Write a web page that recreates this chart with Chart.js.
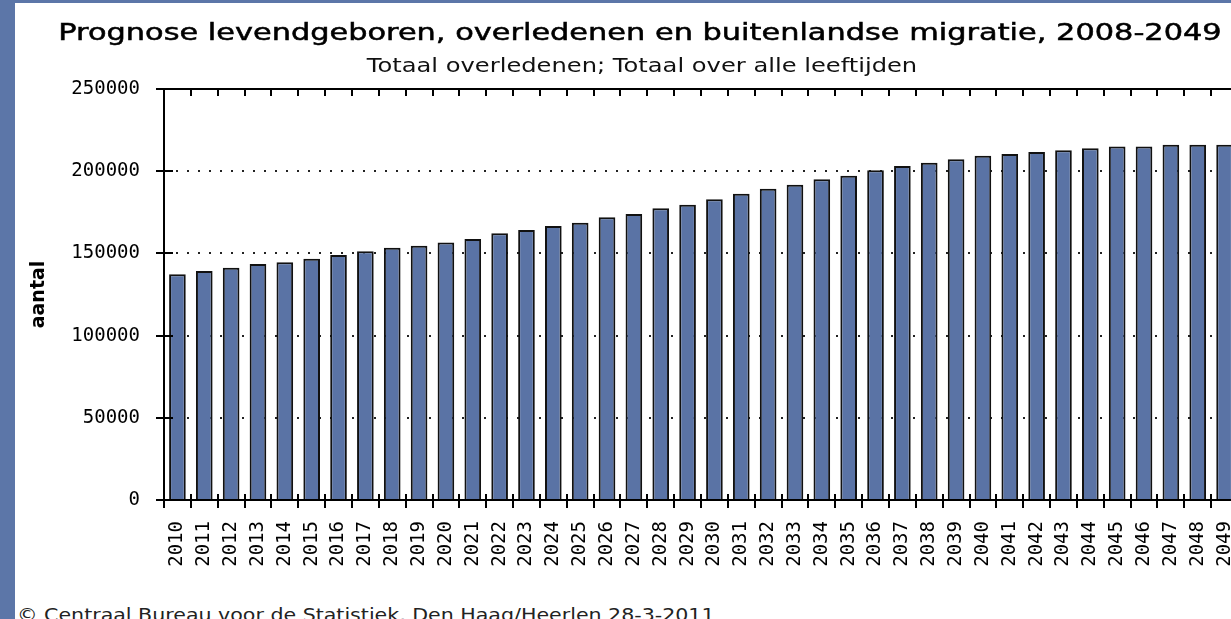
<!DOCTYPE html>
<html>
<head>
<meta charset="utf-8">
<script src="https://cdn.jsdelivr.net/npm/chart.js@4.4.0/dist/chart.umd.min.js"></script>
<style>
  html, body { margin: 0; padding: 0; width: 1231px; height: 619px; overflow: hidden; background: #fff; }
  #rand { position: absolute; left: 0; top: 0; width: 1231px; height: 619px; box-sizing: border-box;
          border-left: 15px solid #5c76a8; border-top: 3px solid #5c76a8; }
  #wrap { position: absolute; left: 15px; top: 3px; width: 1254px; height: 590px; }
  .tekst { position: absolute; white-space: nowrap; font-family: "DejaVu Sans"; color: #000; }
  #titel { left: 640px; top: 21px; font-size: 23px; line-height: 23px; color: #000; -webkit-text-stroke: 0.5px #000; }
  #subtitel { left: 642px; top: 55px; font-size: 20px; line-height: 20px; color: #111; }
  #bron { left: 17px; top: 606px; font-size: 18px; line-height: 18px; color: #222; }
</style>
</head>
<body>
<div id="rand"></div>
<div id="wrap"><canvas id="grafiek" width="1254" height="590"></canvas></div>
<div class="tekst" id="titel">Prognose levendgeboren, overledenen en buitenlandse migratie, 2008-2049</div>
<div class="tekst" id="subtitel">Totaal overledenen; Totaal over alle leeftijden</div>
<div class="tekst" id="bron">© Centraal Bureau voor de Statistiek, Den Haag/Heerlen 28-3-2011</div>
<script>
// Gegevens
const jaren = ['2010', '2011', '2012', '2013', '2014', '2015', '2016', '2017', '2018', '2019',
               '2020', '2021', '2022', '2023', '2024', '2025', '2026', '2027', '2028', '2029',
               '2030', '2031', '2032', '2033', '2034', '2035', '2036', '2037', '2038', '2039',
               '2040', '2041', '2042', '2043', '2044', '2045', '2046', '2047', '2048', '2049'];

const overledenen = [137300, 139300, 141300, 143600, 144600, 146800, 149000, 151300, 153500, 154700,
                     156700, 158800, 162200, 164200, 166700, 168700, 172000, 174000, 177400, 179600,
                     182900, 186300, 189400, 191800, 195100, 197300, 200600, 203200, 205200, 207200,
                     209400, 210500, 211700, 212700, 213900, 215100, 215100, 216100, 216100, 216100];

const yTicks = [0, 50000, 100000, 150000, 200000, 250000];

// Het origineel is breed uitgerekt: teksten horizontaal op breedte brengen
function rekUit(id, breedte, centreren) {
    const el = document.getElementById(id);
    const s = breedte / el.offsetWidth;
    el.style.transformOrigin = centreren ? 'center top' : 'left top';
    el.style.transform = (centreren ? 'translateX(-50%) ' : '') + 'scaleX(' + s + ')';
}
rekUit('titel', 1164, true);
rekUit('subtitel', 550, true);
rekUit('bron', 698, false);

// Streepjes naar binnen op de assen
const binnenTicks = {
    id: 'binnenTicks',
    afterDatasetsDraw(chart) {
        const { ctx, chartArea, scales } = chart;
        ctx.save();
        ctx.strokeStyle = '#000';
        ctx.lineWidth = 2;
        ctx.beginPath();
        for (let i = 0; i <= jaren.length; i++) {
            const px = Math.round(scales.x.getPixelForValue(i - 0.5));
            ctx.moveTo(px, chartArea.bottom);
            ctx.lineTo(px, chartArea.bottom - 6);
            ctx.moveTo(px, chartArea.top);
            ctx.lineTo(px, chartArea.top + 7);
        }
        scales.y.ticks.forEach(t => {
            const py = Math.round(scales.y.getPixelForValue(t.value));
            ctx.moveTo(chartArea.left, py);
            ctx.lineTo(chartArea.left + 9, py);
        });
        ctx.stroke();
        ctx.restore();
    }
};

const ctx = document.getElementById('grafiek').getContext('2d');

new Chart(ctx, {
    type: 'bar',
    data: {
        labels: jaren,
        datasets: [{
            label: 'Totaal overledenen',
            data: overledenen,
            xAxisID: 'x',
            backgroundColor: '#5a73a5',
            borderColor: '#111',
            borderWidth: 2,
            barPercentage: 0.62,
            categoryPercentage: 1
        }]
    },
    options: {
        responsive: false,
        animation: false,
        devicePixelRatio: 1,
        layout: { padding: { left: 0, right: 31, top: 86, bottom: 0 } },
        plugins: {
            legend: { display: false },
            tooltip: { enabled: false },
            title: { display: false },
            subtitle: { display: false }
        },
        scales: {
            x: {
                type: 'category',
                position: 'bottom',
                offset: true,
                grid: { display: true, drawOnChartArea: false, tickLength: 8, tickColor: '#000', lineWidth: 2 },
                border: { display: true, color: '#000', width: 2 },
                ticks: {
                    autoSkip: false, minRotation: 90, maxRotation: 90, padding: 13, color: '#000',
                    font: { family: 'DejaVu Sans Mono', size: 19 }
                },
                afterFit(scale) { scale.height = 93; }
            },
            xTop: {
                type: 'category',
                position: 'top',
                offset: true,
                grid: { display: false, drawTicks: false },
                border: { display: true, color: '#000', width: 2 },
                ticks: { display: false },
                afterFit(scale) { scale.height = 0; }
            },
            y: {
                min: 0,
                max: 250000,
                afterBuildTicks(scale) { scale.ticks = yTicks.map(v => ({ value: v })); },
                grid: {
                    color: c => (c.tick && (c.tick.value === 0 || c.tick.value === 250000)) ? 'rgba(0,0,0,0)' : '#222',
                    lineWidth: 2,
                    tickLength: 8,
                    tickColor: '#000',
                    tickWidth: 2,
                    tickBorderDash: []
                },
                border: { display: true, color: '#000', width: 2, dash: [2, 9] },
                ticks: {
                    padding: 16, color: '#000',
                    font: { family: 'DejaVu Sans Mono', size: 19 },
                    callback: v => String(v)
                },
                title: {
                    display: true,
                    text: 'aantal',
                    color: '#000',
                    font: { family: 'DejaVu Sans', size: 19, weight: 'bold' },
                    padding: { top: 13, bottom: 0 }
                },
                afterFit(scale) { scale.width = 149; }
            }
        }
    },
    plugins: [binnenTicks]
});
</script>
</body>
</html>
